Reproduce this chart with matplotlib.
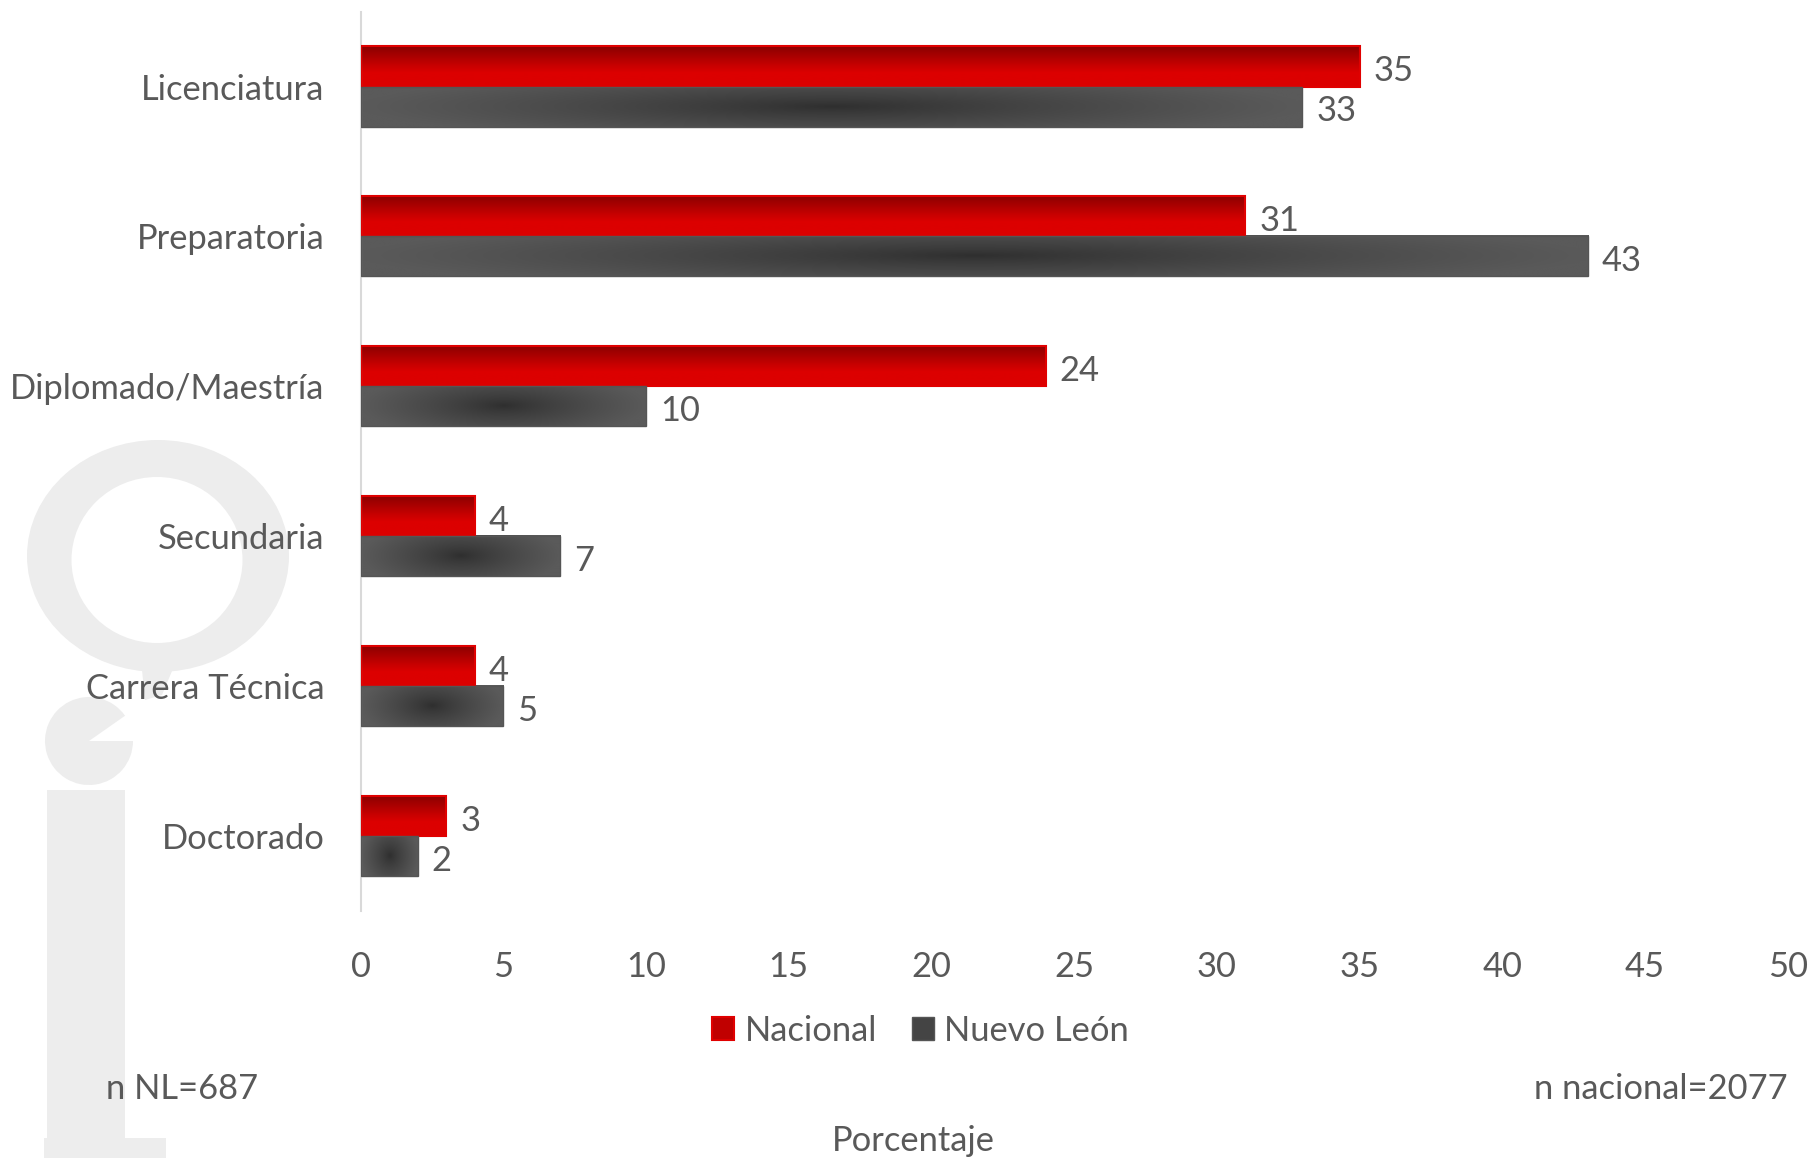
import numpy as np
import matplotlib.pyplot as plt
from matplotlib.patches import Patch, Ellipse, Rectangle, Wedge, Polygon
from matplotlib.colors import to_rgb

categorias = ['Licenciatura', 'Preparatoria', 'Diplomado/Maestría',
              'Secundaria', 'Carrera Técnica', 'Doctorado']
nacional = [35, 31, 24, 4, 4, 3]
nuevo_leon = [33, 43, 10, 7, 5, 2]
series = ['Nacional', 'Nuevo León']
xticks = [0, 5, 10, 15, 20, 25, 30, 35, 40, 45, 50]

plt.rcParams['font.family'] = ['Lato', 'DejaVu Sans']
TXT = '#595959'
FS = 24.8

fig = plt.figure(figsize=(18.12, 11.58), dpi=100)

# watermark logo in the background (pixel coordinates of the figure)
bg = fig.add_axes([0, 0, 1, 1], zorder=0)
bg.set_xlim(0, 1812)
bg.set_ylim(1158, 0)
bg.axis('off')
wm = '#EDEDED'
bg.add_patch(Ellipse((158, 556), 262, 232, color=wm, lw=0))
bg.add_patch(Ellipse((157, 560), 171, 166, color='white', lw=0))
bg.add_patch(Polygon([[140, 650], [185, 640], [162, 695], [145, 700]], color=wm, lw=0))
bg.add_patch(Wedge((89, 741), 44, 0, 325, color=wm, lw=0))
bg.add_patch(Rectangle((47, 790), 78, 370, color=wm, lw=0))
bg.add_patch(Rectangle((44, 1138), 122, 22, color=wm, lw=0))

ax = fig.add_axes([0.199, 0.2136, 0.7876, 0.7764], zorder=1)
ax.patch.set_alpha(0)

y = np.arange(len(categorias))
h = 0.267
bars_nac = ax.barh(y - h / 2, nacional, height=h, facecolor='none',
                   edgecolor='#E00000', lw=1.5, zorder=3)
bars_nl = ax.barh(y + h / 2, nuevo_leon, height=h, facecolor='none',
                  edgecolor='#555555', lw=1.0, zorder=3)

# red bars: vertical gradient, dark on top
top, mid, bot = [np.array(to_rgb(c)) for c in ('#8A0000', '#C40000', '#DC0000')]
t = np.linspace(0, 1, 100)
red = np.array([top + (mid - top) * (s / 0.45) if s < 0.45
                else mid + (bot - mid) * min(1, (s - 0.45) / 0.2) for s in t])
red_img = red[:, None, :]
for p in bars_nac:
    x0, y0, w, hh = p.get_x(), p.get_y(), p.get_width(), p.get_height()
    ax.imshow(red_img, extent=(x0, x0 + w, y0 + hh, y0), origin='upper',
              aspect='auto', zorder=2, interpolation='bilinear')

# grey bars: darker towards the centre
dark = np.array(to_rgb('#2E2E2E'))
light = np.array(to_rgb('#5A5A5A'))
u = np.linspace(-1, 1, 200)
v = np.linspace(-1, 1, 40)
U, V = np.meshgrid(u, v)
d = np.clip(np.sqrt(U ** 2 + 0.35 * V ** 2), 0, 1) ** 0.8
grey_img = dark + (light - dark) * d[..., None]
for p in bars_nl:
    x0, y0, w, hh = p.get_x(), p.get_y(), p.get_width(), p.get_height()
    ax.imshow(grey_img, extent=(x0, x0 + w, y0 + hh, y0), origin='upper',
              aspect='auto', zorder=2, interpolation='bilinear')

for bars, vals in ((bars_nac, nacional), (bars_nl, nuevo_leon)):
    for p, val in zip(bars, vals):
        ax.annotate(str(val), (p.get_width(), p.get_y() + p.get_height() / 2),
                    xytext=(10, -3.5), textcoords='offset points',
                    va='center', ha='left', fontsize=FS, color=TXT)

ax.set_xlim(0, 50)
ax.set_ylim(len(categorias) - 0.5, -0.5)
ax.set_xticks(xticks)
ax.set_yticks(y)
ax.set_yticklabels(categorias)
ax.tick_params(axis='both', length=0, labelsize=FS, labelcolor=TXT)
ax.tick_params(axis='x', pad=29)
ax.tick_params(axis='y', pad=26)
for s in ('top', 'right', 'bottom'):
    ax.spines[s].set_visible(False)
ax.spines['left'].set_color('#D9D9D9')
ax.spines['left'].set_linewidth(1.5)

handles = [Patch(facecolor='#C00000', edgecolor='#E00000', lw=1.5),
           Patch(facecolor='#444444', edgecolor='#555555', lw=1.0)]
fig.legend(handles, series, loc='center', bbox_to_anchor=(0.508, 0.110),
           ncol=2, frameon=False, fontsize=FS, labelcolor=TXT,
           handlelength=0.65, handleheight=0.65, handletextpad=0.3,
           columnspacing=1.0)

fig.text(0.0585, 0.0596, 'n NL=687', fontsize=FS, color=TXT,
         ha='left', va='center')
fig.text(0.9866, 0.0596, 'n nacional=2077', fontsize=FS, color=TXT,
         ha='right', va='center')
fig.text(0.504, 0.0147, 'Porcentaje', fontsize=FS, color=TXT,
         ha='center', va='center')

fig.savefig('out.png', dpi=100)
